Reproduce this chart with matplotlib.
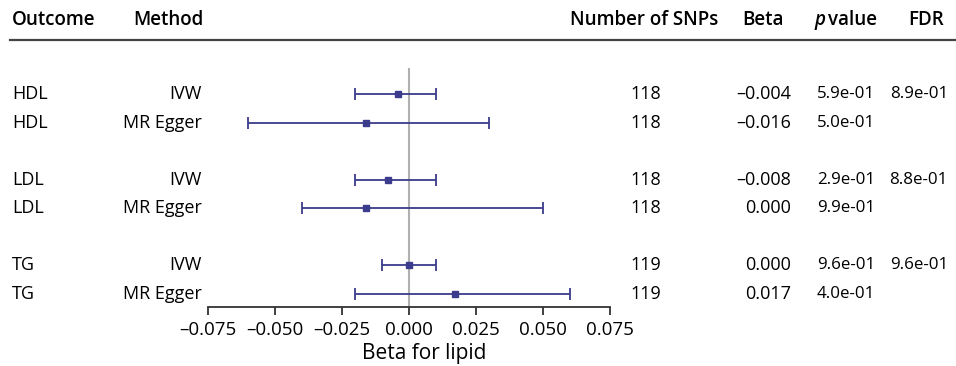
import numpy as np
import matplotlib
matplotlib.use('Agg')
import matplotlib.pyplot as plt
from matplotlib.transforms import blended_transform_factory
from matplotlib.lines import Line2D

plt.rcParams['font.family'] = ['Open Sans', 'DejaVu Sans']
plt.rcParams['font.size'] = 13

# table data
outcomes = ['HDL', 'HDL', 'LDL', 'LDL', 'TG', 'TG']
methods = ['IVW', 'MR Egger', 'IVW', 'MR Egger', 'IVW', 'MR Egger']
n_snps = [118, 118, 118, 118, 119, 119]
beta = [-0.004, -0.016, -0.008, 0.000, 0.000, 0.017]
pvals = ['5.9e-01', '5.0e-01', '2.9e-01', '9.9e-01', '9.6e-01', '4.0e-01']
fdr = ['8.9e-01', '', '8.8e-01', '', '9.6e-01', '']

# forest plot estimates and intervals (as drawn)
est = [-0.004, -0.016, -0.008, -0.016, 0.000, 0.017]
lo = [-0.020, -0.060, -0.020, -0.040, -0.010, -0.020]
hi = [0.010, 0.030, 0.010, 0.050, 0.010, 0.060]
rows = [1, 2, 4, 5, 7, 8]

W, H = 956, 366
fig = plt.figure(figsize=(W / 100, H / 100), dpi=100)
ax = fig.add_axes([208 / W, 1 - 307 / H, (610 - 208) / W, (307 - 40) / H])

col = '#3c3c8c'
est = np.array(est)
xerr = [est - np.array(lo), np.array(hi) - est]
ax.errorbar(est, rows, xerr=xerr, fmt='s', color=col, ecolor=col,
            markersize=4.5, elinewidth=1.3, capsize=4, capthick=1.3, zorder=3)
ax.vlines(0, 0.1, 8.47, color='#b0b0b0', lw=1.5, zorder=1)

ax.set_xlim(-0.075, 0.075)
ax.set_ylim(8.47, -0.9)
ax.set_xticks([-0.075, -0.05, -0.025, 0, 0.025, 0.05, 0.075])
ax.xaxis.set_major_formatter(matplotlib.ticker.FuncFormatter(
    lambda v, pos: f'{v:.3f}'.replace('-', '\u2013')))
ax.set_yticks([])
for s in ['top', 'left', 'right']:
    ax.spines[s].set_visible(False)
ax.spines['bottom'].set_linewidth(1.3)
ax.spines['bottom'].set_color('#333333')
ax.tick_params(axis='x', length=6, width=1.3, color='#333333', pad=4, labelsize=13.5)
ax.set_xlabel('Beta for lipid', fontsize=15)
ax.xaxis.set_label_coords((424.5 - 208) / 402, -0.135)

# table text
tr = blended_transform_factory(fig.transFigure, ax.transData)
def fx(px):
    return px / W

for r, o, m, n, b, p, f in zip(rows, outcomes, methods, n_snps, beta, pvals, fdr):
    ax.text(fx(12), r, o, transform=tr, ha='left', va='center')
    ax.text(fx(202), r, m, transform=tr, ha='right', va='center')
    ax.text(fx(646), r, str(n), transform=tr, ha='center', va='center')
    ax.text(fx(791), r, f'{b:.3f}'.replace('-', '\u2013'), transform=tr, ha='right', va='center')
    ax.text(fx(817), r, p, transform=tr, ha='left', va='center', fontsize=12.2)
    if f:
        ax.text(fx(948), r, f, transform=tr, ha='right', va='center', fontsize=12.2)

# header
hy = 1 - 20 / H
hk = dict(va='center', fontsize=13.5, weight='semibold')
fig.text(fx(12), hy, 'Outcome', ha='left', **hk)
fig.text(fx(133), hy, 'Method', ha='left', **hk)
fig.text(fx(644), hy, 'Number of SNPs', ha='center', **hk)
fig.text(fx(763), hy, 'Beta', ha='center', **hk)
fig.text(fx(815), hy, 'p', ha='left', style='italic', **hk)
fig.text(fx(828), hy, 'value', ha='left', **hk)
fig.text(fx(908), hy, 'FDR', ha='left', **hk)
fig.add_artist(Line2D([10 / W, 1], [1 - 40 / H, 1 - 40 / H], color='#444444', lw=1.6,
                      transform=fig.transFigure))

fig.savefig('out.png', dpi=100)
